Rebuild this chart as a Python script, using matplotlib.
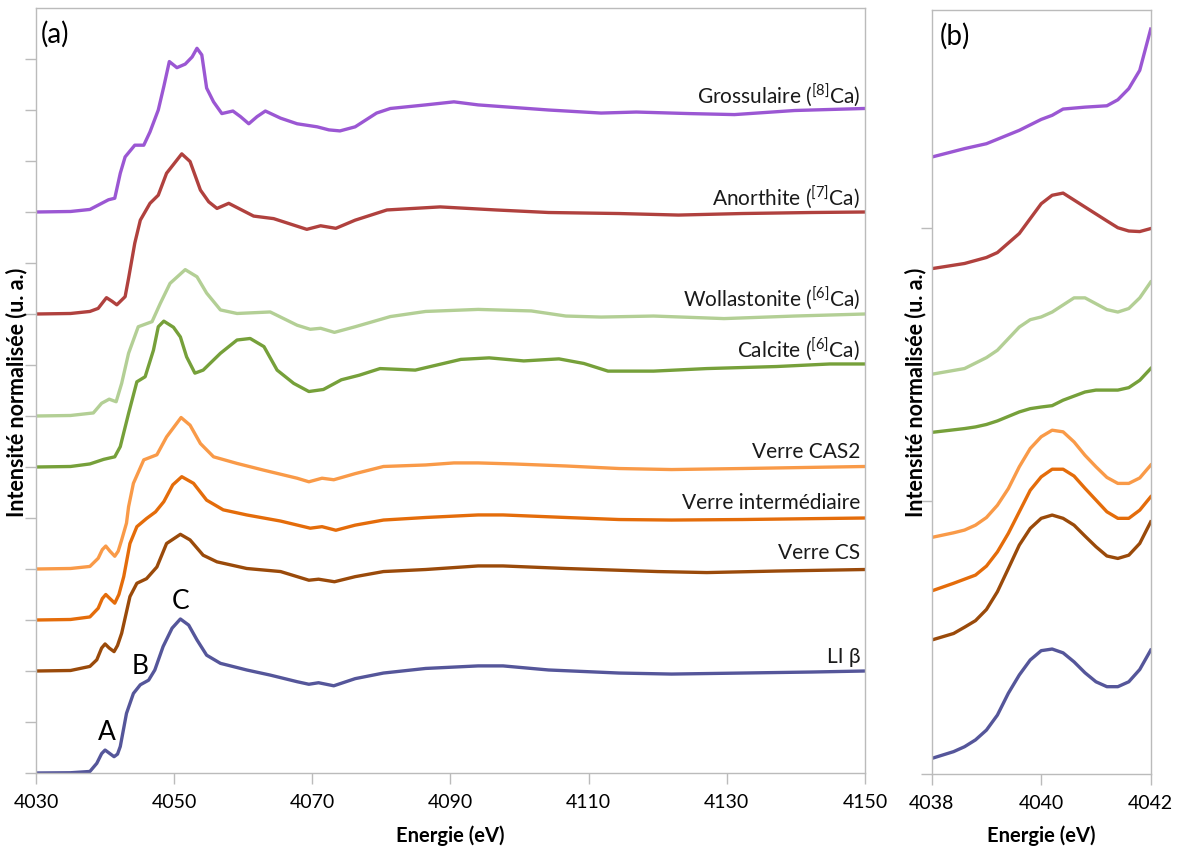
import matplotlib
matplotlib.use("Agg")
import matplotlib.pyplot as plt

plt.rcParams['font.family'] = ['Lato', 'DejaVu Sans']
plt.rcParams['mathtext.fontset'] = 'custom'
plt.rcParams['mathtext.rm'] = 'Lato'
plt.rcParams['mathtext.it'] = 'Lato:italic'
plt.rcParams['mathtext.bf'] = 'Lato:bold'

# ---- panel (a) : full spectra (energie eV, intensite decalee) ----
li_e = [4030.0, 4035.0, 4037.8, 4038.8, 4039.5, 4040.0, 4040.6, 4041.3, 4041.8, 4042.2, 4043.1, 4044.1,
        4045.1, 4046.3, 4047.2, 4048.4, 4049.7, 4050.9, 4052.1, 4053.3, 4054.7, 4056.7, 4060.5,
        4063.9, 4067.8, 4069.5, 4070.9, 4073.1, 4076.2, 4080.3, 4086.4, 4094.0, 4097.6, 4104.2,
        4114.4, 4122.0, 4132.2, 4142.3, 4150.0]
li_v = [0.0, 0.005, 0.03, 0.19, 0.38, 0.45, 0.39, 0.32, 0.37, 0.52, 1.17, 1.56,
        1.73, 1.82, 2.02, 2.48, 2.84, 3.02, 2.90, 2.61, 2.31, 2.15, 2.02,
        1.92, 1.79, 1.74, 1.77, 1.71, 1.85, 1.96, 2.05, 2.10, 2.10, 2.02,
        1.96, 1.94, 1.96, 1.98, 2.00]

cs_e = [4030.0, 4035.0, 4037.8, 4038.8, 4039.5, 4040.0, 4040.6, 4041.3, 4041.8, 4042.4, 4043.6, 4044.6,
        4046.0, 4047.5, 4048.9, 4050.9, 4052.3, 4054.2, 4056.2, 4060.5, 4065.4, 4069.5, 4070.9,
        4073.2, 4076.2, 4080.3, 4086.4, 4094.0, 4097.6, 4106.7, 4120.0, 4127.1, 4137.2, 4150.0]
cs_v = [2.0, 2.01, 2.09, 2.22, 2.45, 2.53, 2.45, 2.38, 2.50, 2.74, 3.46, 3.72,
        3.81, 4.04, 4.50, 4.68, 4.57, 4.27, 4.14, 4.01, 3.95, 3.78, 3.80,
        3.75, 3.85, 3.95, 3.99, 4.06, 4.06, 4.01, 3.95, 3.93, 3.96, 3.99]

int_e = [4030.0, 4035.0, 4037.8, 4039.0, 4039.6, 4040.1, 4040.7, 4041.4, 4042.0, 4042.7, 4043.6, 4044.6,
         4046.0, 4047.3, 4048.5, 4049.8, 4051.1, 4052.8, 4054.7, 4057.1, 4060.5, 4065.4, 4069.7,
         4071.4, 4073.4, 4076.2, 4080.3, 4086.4, 4094.0, 4097.6, 4106.7, 4114.4, 4122.0, 4132.2, 4150.0]
int_v = [3.0, 3.01, 3.06, 3.23, 3.42, 3.50, 3.42, 3.33, 3.50, 3.85, 4.50, 4.83,
         4.99, 5.12, 5.32, 5.65, 5.81, 5.68, 5.35, 5.16, 5.06, 4.94, 4.80,
         4.83, 4.76, 4.86, 4.96, 5.01, 5.06, 5.06, 5.01, 4.97, 4.96, 4.97, 5.00]

cas_e = [4030.0, 4035.0, 4037.8, 4039.0, 4039.6, 4040.1, 4040.7, 4041.4, 4041.9, 4042.4, 4043.1, 4043.4,
         4044.1, 4045.6, 4047.5, 4048.9, 4051.0, 4052.3, 4053.8, 4055.7, 4059.1, 4062.9, 4067.8,
         4069.5, 4071.4, 4073.1, 4076.2, 4080.3, 4086.4, 4090.5, 4094.0, 4099.1, 4106.7, 4114.4,
         4122.0, 4132.2, 4150.0]
cas_v = [4.0, 4.01, 4.05, 4.21, 4.38, 4.45, 4.35, 4.25, 4.35, 4.57, 4.90, 5.22,
         5.68, 6.14, 6.24, 6.59, 6.97, 6.82, 6.46, 6.20, 6.07, 5.94, 5.78,
         5.71, 5.78, 5.75, 5.87, 6.01, 6.04, 6.08, 6.08, 6.06, 6.02, 5.97,
         5.95, 5.97, 6.01]

cal_e = [4030.0, 4035.0, 4037.8, 4039.8, 4041.4, 4042.2, 4043.4, 4044.6, 4045.8, 4047.0, 4047.7, 4048.5,
         4049.9, 4050.9, 4051.8, 4053.0, 4054.2, 4056.7, 4059.1, 4061.0, 4063.0, 4064.9, 4067.3,
         4069.5, 4071.6, 4074.2, 4076.8, 4079.8, 4084.9, 4091.5, 4095.6, 4100.6, 4105.7, 4109.3,
         4112.8, 4119.4, 4127.1, 4137.2, 4144.9, 4150.0]
cal_v = [6.0, 6.01, 6.06, 6.15, 6.20, 6.40, 7.05, 7.67, 7.77, 8.29, 8.75, 8.86,
         8.74, 8.55, 8.16, 7.84, 7.90, 8.23, 8.49, 8.52, 8.36, 7.90, 7.64,
         7.48, 7.52, 7.71, 7.80, 7.93, 7.90, 8.11, 8.14, 8.08, 8.12, 8.03,
         7.88, 7.88, 7.93, 7.97, 8.02, 8.02]

wol_e = [4030.0, 4035.0, 4038.3, 4039.5, 4040.6, 4041.6, 4042.4, 4043.4, 4044.8, 4046.8, 4048.0, 4049.4,
         4051.6, 4053.3, 4054.7, 4056.7, 4059.1, 4063.9, 4067.8, 4069.7, 4071.2, 4073.2, 4076.2,
         4081.3, 4086.4, 4094.0, 4101.7, 4106.7, 4111.8, 4119.4, 4129.6, 4139.8, 4150.0]
wol_v = [7.0, 7.01, 7.06, 7.25, 7.33, 7.28, 7.64, 8.23, 8.75, 8.85, 9.21, 9.60,
         9.87, 9.73, 9.41, 9.08, 9.01, 9.04, 8.78, 8.70, 8.72, 8.64, 8.75,
         8.95, 9.05, 9.09, 9.06, 8.96, 8.94, 8.96, 8.91, 8.96, 9.00]

ano_e = [4030.0, 4035.0, 4037.8, 4039.0, 4040.2, 4041.0, 4041.7, 4042.9, 4043.4, 4044.3, 4045.1, 4046.5,
         4047.7, 4048.9, 4051.1, 4052.3, 4053.8, 4055.0, 4056.2, 4057.9, 4061.5, 4064.4, 4069.2,
         4071.2, 4073.4, 4076.2, 4080.8, 4088.5, 4096.6, 4104.2, 4114.4, 4123.0, 4132.2, 4142.3, 4150.0]
ano_v = [9.0, 9.01, 9.05, 9.11, 9.32, 9.25, 9.18, 9.34, 9.70, 10.39, 10.84, 11.17,
         11.33, 11.76, 12.14, 11.99, 11.43, 11.20, 11.07, 11.17, 10.92, 10.87, 10.66,
         10.73, 10.68, 10.84, 11.04, 11.10, 11.04, 10.99, 10.97, 10.94, 10.97, 10.99, 11.00]

gro_e = [4030.0, 4035.0, 4037.8, 4040.5, 4041.4, 4042.2, 4042.9, 4044.3, 4045.6, 4046.5, 4047.7, 4048.5,
         4049.3, 4050.4, 4051.6, 4052.6, 4053.3, 4054.0, 4054.7, 4055.7, 4056.9, 4058.5, 4059.6,
         4060.8, 4062.0, 4063.2, 4065.4, 4067.8, 4070.7, 4072.4, 4074.0, 4076.2, 4079.3, 4081.3,
         4086.4, 4090.5, 4094.0, 4099.1, 4104.2, 4111.8, 4116.9, 4124.5, 4131.1, 4139.8, 4150.0]
gro_v = [11.0, 11.01, 11.05, 11.24, 11.27, 11.76, 12.08, 12.31, 12.31, 12.57, 13.0, 13.46,
         13.95, 13.83, 13.90, 14.04, 14.21, 14.08, 13.43, 13.16, 12.93, 12.98, 12.87,
         12.73, 12.87, 12.98, 12.84, 12.73, 12.67, 12.61, 12.59, 12.67, 12.94, 13.03,
         13.10, 13.16, 13.10, 13.05, 13.00, 12.94, 12.96, 12.93, 12.91, 12.99, 13.03]

# ---- panel (b) : zoom on pre-edge ----
gro_be = [4038.0, 4038.6, 4039.0, 4039.6, 4040.0, 4040.2, 4040.4, 4040.8, 4041.2, 4041.4, 4041.6, 4041.8, 4042.0]
gro_bv = [2.261, 2.292, 2.310, 2.359, 2.399, 2.414, 2.437, 2.444, 2.449, 2.471, 2.512, 2.579, 2.730]

ano_be = [4038.0, 4038.6, 4039.0, 4039.2, 4039.6, 4040.0, 4040.2, 4040.4, 4040.8, 4041.2, 4041.4, 4041.6, 4041.8, 4042.0]
ano_bv = [1.852, 1.871, 1.893, 1.911, 1.981, 2.090, 2.121, 2.129, 2.078, 2.027, 2.002, 1.990, 1.988, 1.999]

wol_be = [4038.0, 4038.6, 4039.0, 4039.2, 4039.6, 4039.8, 4040.0, 4040.2, 4040.6, 4040.8, 4041.2, 4041.4, 4041.6, 4041.8, 4042.0]
wol_bv = [1.465, 1.486, 1.526, 1.553, 1.638, 1.665, 1.675, 1.693, 1.745, 1.745, 1.702, 1.693, 1.706, 1.745, 1.803]

cal_be = [4038.0, 4038.6, 4038.8, 4039.0, 4039.2, 4039.6, 4039.8, 4040.0, 4040.2, 4040.4, 4040.8, 4041.0, 4041.4, 4041.6, 4041.8, 4042.0]
cal_bv = [1.252, 1.266, 1.272, 1.281, 1.294, 1.327, 1.339, 1.345, 1.350, 1.370, 1.400, 1.407, 1.407, 1.416, 1.443, 1.486]

grid_b = [4038.0, 4038.4, 4038.6, 4038.8, 4039.0, 4039.2, 4039.4, 4039.6, 4039.8, 4040.0,
          4040.2, 4040.4, 4040.6, 4040.8, 4041.0, 4041.2, 4041.4, 4041.6, 4041.8, 4042.0]
cas_bv = [0.867, 0.884, 0.894, 0.912, 0.940, 0.985, 1.046, 1.126, 1.193, 1.236,
          1.260, 1.254, 1.217, 1.168, 1.126, 1.087, 1.065, 1.065, 1.085, 1.132]
int_bv = [0.671, 0.699, 0.714, 0.729, 0.762, 0.814, 0.882, 0.961, 1.040, 1.089,
          1.117, 1.117, 1.092, 1.047, 1.004, 0.961, 0.937, 0.937, 0.967, 1.016]
cs_bv = [0.491, 0.515, 0.538, 0.562, 0.603, 0.668, 0.753, 0.839, 0.900, 0.937,
         0.949, 0.937, 0.912, 0.872, 0.833, 0.799, 0.790, 0.802, 0.845, 0.924]
li_bv = [0.057, 0.082, 0.100, 0.125, 0.161, 0.216, 0.296, 0.363, 0.418, 0.452,
         0.458, 0.444, 0.411, 0.371, 0.338, 0.320, 0.320, 0.338, 0.383, 0.454]

names = ['Grossulaire ($^{[8]}$Ca)', 'Anorthite ($^{[7]}$Ca)', 'Wollastonite ($^{[6]}$Ca)',
         'Calcite ($^{[6]}$Ca)', 'Verre CAS2', 'Verre intermédiaire', 'Verre CS', 'LI β']
label_y = [13.29, 11.29, 9.31, 8.31, 6.29, 5.29, 4.31, 2.27]
colors = ['#9B57D3', '#B0413E', '#B3CF95', '#76A03A', '#F99A48', '#E46C0A', '#9A4A0A', '#55569A']

spec_a = [(gro_e, gro_v), (ano_e, ano_v), (wol_e, wol_v), (cal_e, cal_v),
          (cas_e, cas_v), (int_e, int_v), (cs_e, cs_v), (li_e, li_v)]
spec_b = [(gro_be, gro_bv), (ano_be, ano_bv), (wol_be, wol_bv), (cal_be, cal_bv),
          (grid_b, cas_bv), (grid_b, int_bv), (grid_b, cs_bv), (grid_b, li_bv)]

fig = plt.figure(figsize=(11.84, 8.51), dpi=100)
ax = fig.add_axes([36/1184, 1-773/851, (865-36)/1184, (773-8)/851])
axb = fig.add_axes([931.7/1184, 1-774/851, (1150.7-931.7)/1184, (774-10)/851])

for (e, v), c in zip(spec_a, colors):
    ax.plot(e, v, color=c, lw=2.4, solid_joinstyle='round')
for (e, v), c in zip(spec_b, colors):
    axb.plot(e, v, color=c, lw=2.4, solid_joinstyle='round')

for name, y, c in zip(names, label_y, colors):
    ax.text(4149.3, y, name, ha='right', va='center', fontsize=15, color='#1a1a1a')

ax.text(4040.2, 0.80, 'A', ha='center', va='center', fontsize=19)
ax.text(4045.1, 2.08, 'B', ha='center', va='center', fontsize=19)
ax.text(4050.9, 3.37, 'C', ha='center', va='center', fontsize=19)

ax.set_xlim(4030, 4150)
ax.set_ylim(0, 15)
ax.set_xticks(range(4030, 4151, 20))
ax.set_yticks(range(0, 15))
ax.set_yticklabels([])

axb.set_xlim(4038, 4042)
axb.set_ylim(0, 2.8)
axb.set_xticks([4038, 4040, 4042])
axb.set_yticks([0, 1, 2])
axb.set_yticklabels([])

for a in (ax, axb):
    for s in a.spines.values():
        s.set_color('#BBBBBB')
        s.set_linewidth(1.0)
    a.tick_params(axis='both', direction='out', length=8, width=1.0, color='#BBBBBB',
                  labelsize=14, pad=7)

ax.text(0.006, 0.965, '(a)', transform=ax.transAxes, fontsize=20, va='center', ha='left')
axb.text(0.035, 0.965, '(b)', transform=axb.transAxes, fontsize=20, va='center', ha='left')

fig.text(17/1184, 1-392/851, 'Intensité normalisée (u. a.)', rotation=90, ha='center', va='center',
         fontsize=15.5, fontweight='bold')
fig.text(916/1184, 1-392/851, 'Intensité normalisée (u. a.)', rotation=90, ha='center', va='center',
         fontsize=15.5, fontweight='bold')
fig.text(450/1184, 1-836/851, 'Energie (eV)', ha='center', va='center', fontsize=14.5, fontweight='bold')
fig.text(1041/1184, 1-836/851, 'Energie (eV)', ha='center', va='center', fontsize=14.5, fontweight='bold')

fig.savefig('out.png', dpi=100)
